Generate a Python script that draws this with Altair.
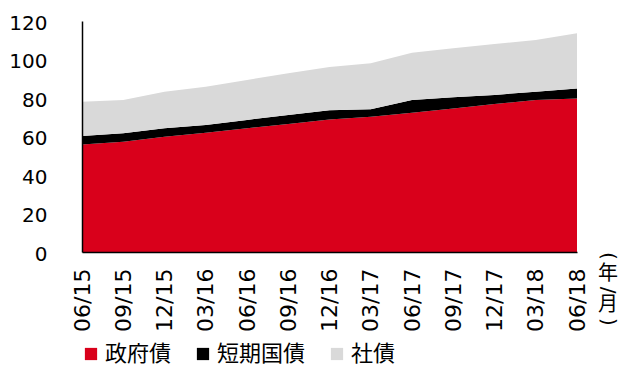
import altair as alt
import pandas as pd

periods = ["06/15", "09/15", "12/15", "03/16", "06/16", "09/16", "12/16",
           "03/17", "06/17", "09/17", "12/17", "03/18", "06/18"]
series_names = ["政府債", "短期国債", "社債"]
gov = [55.9, 57.3, 59.9, 62.0, 64.3, 66.5, 68.8, 70.3, 72.4, 74.6, 76.9, 79.0, 79.8]
short = [4.4, 4.4, 4.4, 4.0, 4.3, 4.7, 4.8, 3.8, 6.6, 5.8, 4.7, 4.3, 5.2]
corp = [17.8, 17.3, 19.0, 19.9, 20.8, 21.6, 22.5, 24.0, 24.5, 25.4, 26.5, 26.8, 28.6]
colors = ["#D9001B", "#000000", "#D9D9D9"]
y_ticks = [0, 20, 40, 60, 80, 100, 120]

rows = []
for k, (name, vals) in enumerate(zip(series_names, [gov, short, corp])):
    for p, v in zip(periods, vals):
        rows.append({"period": p, "series": name, "value": v, "ord": k})
df = pd.DataFrame(rows)

area = alt.Chart(df).mark_area(opacity=1).encode(
    x=alt.X("period:O", sort=periods, title=None,
            scale=alt.Scale(type="point", padding=0),
            axis=alt.Axis(labelAngle=270, labelAlign="right", labelBaseline="middle",
                          labelPadding=16, ticks=False, labelFont="DejaVu Sans",
                          labelFontSize=22, labelColor="#000000", zindex=1,
                          domainColor="#000000", domainWidth=1.5)),
    y=alt.Y("value:Q", stack="zero", title=None,
            scale=alt.Scale(domain=[0, 120], nice=False),
            axis=alt.Axis(values=y_ticks, grid=False, ticks=False, labelPadding=35,
                          labelOffset=2, labelFont="DejaVu Sans", labelFontSize=20,
                          labelColor="#000000", domainColor="#000000", domainWidth=1.5,
                          zindex=1)),
    color=alt.Color("series:N", sort=series_names,
                    scale=alt.Scale(domain=series_names, range=colors),
                    legend=alt.Legend(title=None, orient="none", legendX=-2, legendY=322,
                                      direction="horizontal", symbolType="square",
                                      symbolSize=150, symbolStrokeWidth=0,
                                      labelFont="Noto Sans CJK JP", labelFontSize=22,
                                      labelColor="#000000", labelOffset=3,
                                      columnPadding=20)),
    order=alt.Order("ord:Q"),
)

lab_df = pd.DataFrame({"a": [0]})


def ch(t, y, angle=0, font="Noto Sans CJK JP"):
    return alt.Chart(lab_df).mark_text(
        text=t, font=font, fontSize=20, color="#000000", angle=angle,
        align="center", baseline="middle"
    ).encode(x=alt.value(526), y=alt.value(y))


unit_label = (ch("(", 235, 90, "DejaVu Sans") + ch("年", 253) + ch("/", 269, 90, "DejaVu Sans")
              + ch("月", 284) + ch(")", 301, 90, "DejaVu Sans"))

chart = alt.layer(area, unit_label).properties(
    width=495, height=231,
    padding={"left": 82, "top": 21, "right": 44, "bottom": 117},
    autosize="none",
).configure_view(stroke=None)

chart.save("out.html", embed_options={"renderer": "svg", "actions": False})
